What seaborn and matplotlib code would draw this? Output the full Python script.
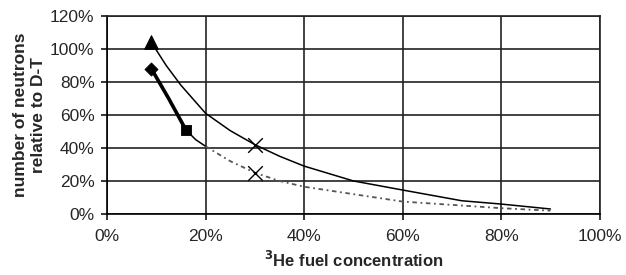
import matplotlib
matplotlib.use("Agg")
import matplotlib.pyplot as plt
import seaborn as sns
from matplotlib.ticker import PercentFormatter

# upper curve (thin solid) starting at the triangle
upper_x = [9, 12, 15, 20, 25, 30, 35, 40, 50, 60, 72, 80, 90]
upper_y = [104, 90, 78, 61, 50.5, 42, 35, 29, 20, 14.5, 8, 6, 3]

# lower curve: thick part, thin part, then dotted tail
thick_x = [9, 12.5, 16]
thick_y = [88, 70, 51]
thin_x = [16, 18, 20]
thin_y = [51, 45, 41]
dot_x = [20, 25, 30, 35, 40, 50, 60, 70, 80, 90]
dot_y = [41, 32, 25, 20, 16.5, 12, 7.5, 5.5, 3.5, 2]

# single markers
tri_x, tri_y = [9], [104]
dia_x, dia_y = [9], [88]
sq_x, sq_y = [16], [51]
cross_x, cross_y = [30, 30], [42, 25]

sns.set_style("white")
plt.rcParams['font.family'] = ['Liberation Sans', 'DejaVu Sans']

fig = plt.figure(figsize=(6.26, 2.75), dpi=100)
ax = fig.add_axes([0.171, 0.222, 0.787, 0.72])

sns.lineplot(x=upper_x, y=upper_y, ax=ax, color='black', lw=1.1, sort=False, estimator=None)
sns.lineplot(x=thick_x, y=thick_y, ax=ax, color='black', lw=2.6, sort=False, estimator=None)
sns.lineplot(x=thin_x, y=thin_y, ax=ax, color='black', lw=1.1, sort=False, estimator=None)
ax.plot(dot_x, dot_y, color='#555555', lw=1.3, linestyle=(0, (2.5, 2, 1, 2)))

sns.scatterplot(x=tri_x, y=tri_y, ax=ax, marker='^', s=95, color='black', edgecolor='black', zorder=5)
sns.scatterplot(x=dia_x, y=dia_y, ax=ax, marker='D', s=45, color='black', edgecolor='black', zorder=5)
sns.scatterplot(x=sq_x, y=sq_y, ax=ax, marker='s', s=60, color='black', edgecolor='black', zorder=5)
sns.scatterplot(x=cross_x, y=cross_y, ax=ax, marker='x', s=110, color='black', linewidth=1.0, zorder=5)

ax.set_xlim(0, 100)
ax.set_ylim(0, 120)
ax.set_xticks(range(0, 101, 20))
ax.set_yticks(range(0, 121, 20))
ax.xaxis.set_major_formatter(PercentFormatter(decimals=0))
ax.yaxis.set_major_formatter(PercentFormatter(decimals=0))
ax.grid(True, color='#222222', lw=1.2)
ax.set_axisbelow(True)

for side in ['top', 'right']:
    ax.spines[side].set_color('#222222')
    ax.spines[side].set_linewidth(1.2)
for side in ['left', 'bottom']:
    ax.spines[side].set_color('black')
    ax.spines[side].set_linewidth(1.2)

ax.tick_params(axis='both', which='major', labelsize=12.5, length=4, width=1.1,
               direction='out', color='black', pad=5)
ax.tick_params(axis='x', pad=7)
ax.tick_params(left=True, bottom=True)

ax.set_xlabel('$\\mathbf{^3}$He fuel concentration', fontsize=12, fontweight='bold', labelpad=4)
ax.set_ylabel('number of neutrons\nrelative to D-T', fontsize=12.5, fontweight='bold', labelpad=3)

fig.savefig('out.png', dpi=100, facecolor='white')
